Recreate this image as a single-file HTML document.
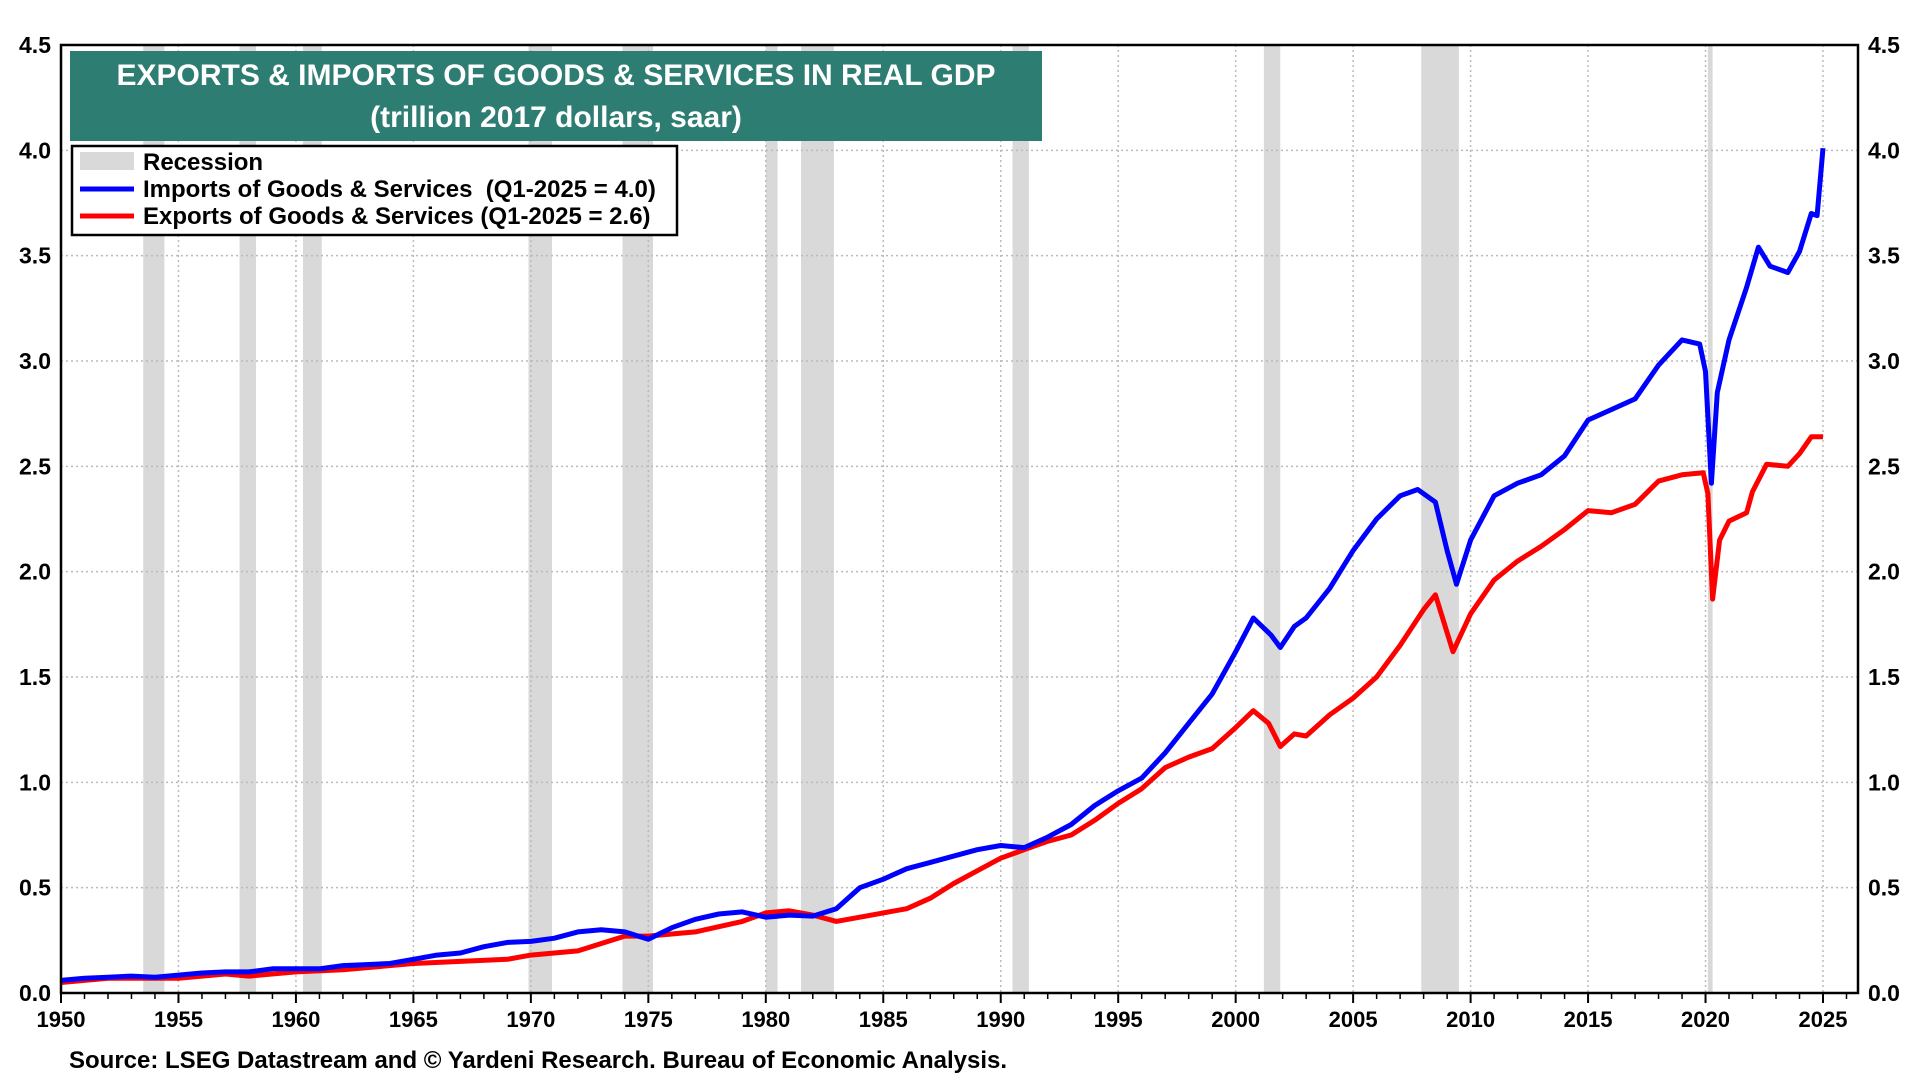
<!DOCTYPE html>
<html><head><meta charset="utf-8"><style>
html,body{margin:0;padding:0;background:#fff;}
body{width:1920px;height:1080px;overflow:hidden;font-family:"Liberation Sans",sans-serif;}
</style></head><body>
<svg id="chart" width="1920" height="1080" xmlns="http://www.w3.org/2000/svg" font-family="Liberation Sans, sans-serif">
<g id="rec"></g>
<g id="grid"></g>
<g id="axes"></g>
<g id="series"></g>
<rect x="61" y="45" width="1797" height="948" fill="none" stroke="#000" stroke-width="2.5"/>
<g>
<rect x="70" y="51" width="972" height="90" fill="#2e7d72"/>
<text x="556" y="85" text-anchor="middle" fill="#fff" font-size="30" font-weight="bold">EXPORTS &amp; IMPORTS OF GOODS &amp; SERVICES IN REAL GDP</text>
<text x="556" y="127" text-anchor="middle" fill="#fff" font-size="30" font-weight="bold">(trillion 2017 dollars, saar)</text>
</g>
<g>
<rect x="72" y="146" width="605" height="89" fill="#fff" stroke="#000" stroke-width="2.5"/>
<rect x="80" y="152" width="54" height="18" fill="#d9d9d9"/>
<text x="143" y="170" font-size="24" font-weight="bold">Recession</text>
<line x1="80" y1="189" x2="134" y2="189" stroke="#0000ff" stroke-width="5"/>
<text x="143" y="197" font-size="24" font-weight="bold" xml:space="preserve">Imports of Goods &amp; Services  (Q1-2025 = 4.0)</text>
<line x1="80" y1="216" x2="134" y2="216" stroke="#ff0000" stroke-width="5"/>
<text x="143" y="224" font-size="24" font-weight="bold">Exports of Goods &amp; Services (Q1-2025 = 2.6)</text>
</g>
<text x="69" y="1068" font-size="24" font-weight="bold">Source: LSEG Datastream and © Yardeni Research. Bureau of Economic Analysis.</text>
</svg>
<script>
const recStart=[1953.5,1957.6,1960.3,1969.9,1973.9,1980.0,1981.5,1990.5,2001.2,2007.9,2020.1];
const recEnd=[1954.4,1958.3,1961.1,1970.9,1975.2,1980.5,1982.9,1991.2,2001.9,2009.5,2020.3];
const yTicks=[0,0.5,1,1.5,2,2.5,3,3.5,4,4.5];
const yTickLabels=["0.0","0.5","1.0","1.5","2.0","2.5","3.0","3.5","4.0","4.5"];
const xTicks=[1950,1955,1960,1965,1970,1975,1980,1985,1990,1995,2000,2005,2010,2015,2020,2025];
const impYears=[1950,1951,1952,1953,1954,1955,1956,1957,1958,1959,1960,1961,1962,1963,1964,1965,1966,1967,1968,1969,1970,1971,1972,1973,1974,1975,1976,1977,1978,1979,1980,1981,1982,1983,1984,1985,1986,1987,1988,1989,1990,1991,1992,1993,1994,1995,1996,1997,1998,1999,2000,2000.75,2001.5,2001.9,2002.5,2003,2004,2005,2006,2007,2007.75,2008.5,2009,2009.4,2010,2011,2012,2013,2014,2015,2016,2017,2018,2019,2019.75,2020,2020.25,2020.5,2021,2021.75,2022.25,2022.75,2023.5,2024,2024.5,2024.75,2025];
const impValues=[0.06,0.07,0.075,0.08,0.075,0.085,0.095,0.10,0.10,0.115,0.115,0.115,0.13,0.135,0.14,0.16,0.18,0.19,0.22,0.24,0.245,0.26,0.29,0.30,0.29,0.255,0.31,0.35,0.375,0.385,0.36,0.37,0.365,0.40,0.50,0.54,0.59,0.62,0.65,0.68,0.70,0.69,0.74,0.80,0.89,0.96,1.02,1.14,1.28,1.42,1.62,1.78,1.70,1.64,1.74,1.78,1.92,2.10,2.25,2.36,2.39,2.33,2.10,1.94,2.15,2.36,2.42,2.46,2.55,2.72,2.77,2.82,2.98,3.10,3.08,2.95,2.42,2.85,3.10,3.35,3.54,3.45,3.42,3.52,3.70,3.69,4.01];
const expYears=[1950,1952,1955,1957,1958,1960,1962,1965,1967,1969,1970,1972,1974,1975,1977,1979,1980,1981,1982,1983,1985,1986,1987,1988,1989,1990,1991,1992,1993,1994,1995,1996,1997,1998,1999,2000,2000.75,2001.4,2001.9,2002.5,2003,2004,2005,2006,2007,2008,2008.5,2009.25,2010,2011,2012,2013,2014,2015,2016,2017,2018,2019,2019.9,2020.1,2020.3,2020.6,2021,2021.75,2022,2022.6,2023.5,2024,2024.5,2025];
const expValues=[0.05,0.07,0.07,0.09,0.08,0.10,0.11,0.14,0.15,0.16,0.18,0.20,0.27,0.27,0.29,0.34,0.38,0.39,0.37,0.34,0.38,0.40,0.45,0.52,0.58,0.64,0.68,0.72,0.75,0.82,0.90,0.97,1.07,1.12,1.16,1.26,1.34,1.28,1.17,1.23,1.22,1.32,1.40,1.50,1.65,1.82,1.89,1.62,1.80,1.96,2.05,2.12,2.20,2.29,2.28,2.32,2.43,2.46,2.47,2.37,1.87,2.15,2.24,2.28,2.38,2.51,2.50,2.56,2.64,2.64];

const NS="http://www.w3.org/2000/svg";
const L=61,R=1858,T=45,B=993;
function xs(y){return 61+(y-1950)*(1823-61)/75;}
function ys(v){return B-(v/4.5)*(B-T);}
function mk(tag,attrs,parent){const e=document.createElementNS(NS,tag);for(const k in attrs)e.setAttribute(k,attrs[k]);parent.appendChild(e);return e;}
const rec=document.getElementById('rec'),grid=document.getElementById('grid'),axes=document.getElementById('axes'),series=document.getElementById('series');
recStart.forEach((s,i)=>{
  const r=mk('rect',{x:xs(s),y:T,width:xs(recEnd[i])-xs(s),height:B-T,fill:'#d9d9d9'},rec);
  
  
});
yTicks.forEach((v,i)=>{
  if(v>0&&v<4.5){const g=mk('line',{x1:L,x2:R,y1:ys(v),y2:ys(v),stroke:'#bbb','stroke-width':1.5,'stroke-dasharray':'2,3'},grid);
  
  }
  const t1=mk('text',{x:L-10,y:ys(v)+8,'text-anchor':'end','font-size':23,'font-weight':'bold'},axes);t1.textContent=yTickLabels[i];
  
  
  const t2=mk('text',{x:R+10,y:ys(v)+8,'text-anchor':'start','font-size':23,'font-weight':'bold'},axes);t2.textContent=yTickLabels[i];
  
  
});
xTicks.forEach(y=>{
  if(y>1950){const g=mk('line',{x1:xs(y),x2:xs(y),y1:T,y2:B,stroke:'#bbb','stroke-width':1.5,'stroke-dasharray':'2,3'},grid);
  
  }
  const t=mk('text',{x:xs(y),y:B+34,'text-anchor':'middle','font-size':22,'font-weight':'bold'},axes);t.textContent=String(y);
  
  
});
for(let y=1950;y<=2027;y++){const big=y%5===0;mk('line',{x1:xs(y),x2:xs(y),y1:B,y2:B+(big?10:6),stroke:'#000','stroke-width':big?2:1.5},axes);}
function path(xv,yv,color,name){
  const d=xv.map((x,i)=>(i?'L':'M')+xs(x).toFixed(1)+','+ys(yv[i]).toFixed(1)).join('');
  const p=mk('path',{d:d,fill:'none',stroke:color,'stroke-width':5,'stroke-linejoin':'round'},series);
  
  
}
path(expYears,expValues,'#ff0000','exports-line');
path(impYears,impValues,'#0000ff','imports-line');
</script>
</body></html>
